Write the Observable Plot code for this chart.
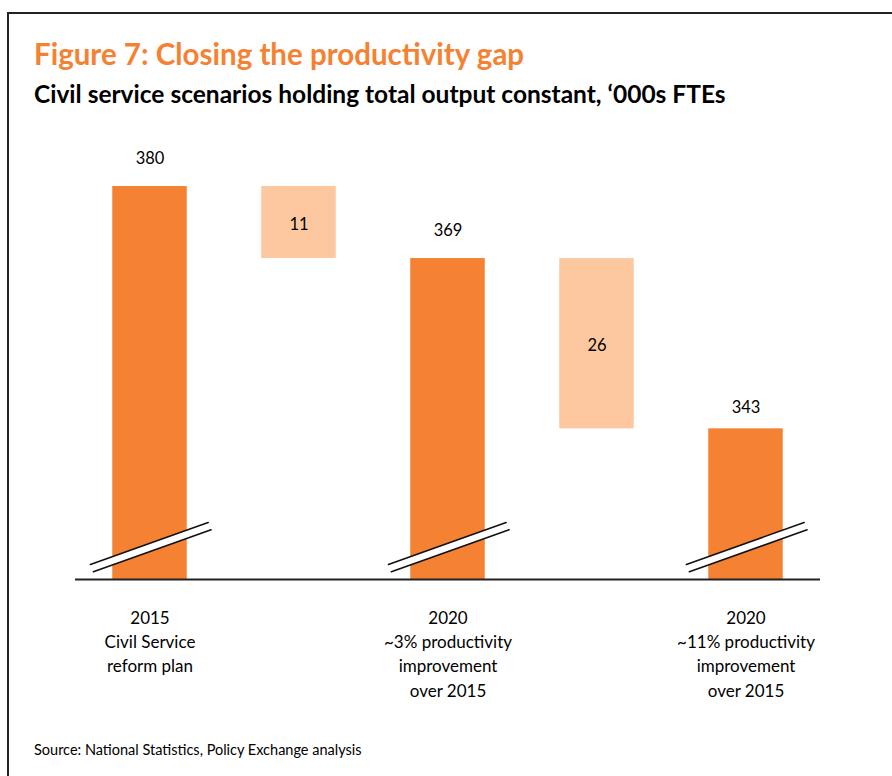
<!DOCTYPE html>
<html><head><meta charset="utf-8">
<script src="https://cdn.jsdelivr.net/npm/d3@7"></script>
<script src="https://cdn.jsdelivr.net/npm/@observablehq/plot@0.6"></script>
<style>
body{margin:0;background:#fff;font-family:Lato,"Open Sans",sans-serif;}
#wrap{position:relative;width:892px;height:776px;overflow:hidden;background:#fff;}
#frame{position:absolute;left:7px;top:12px;width:900px;height:800px;border-top:2px solid #222;border-left:2px solid #222;box-sizing:border-box;}
#title{position:absolute;left:34px;top:39px;font-size:29.5px;line-height:1;font-weight:bold;color:#F58232;white-space:nowrap;}
#subtitle{position:absolute;left:34px;top:82px;font-size:24.5px;line-height:1;font-weight:bold;color:#000;white-space:nowrap;}
#chart{position:absolute;left:0;top:130px;}
#source{position:absolute;left:34px;top:743px;font-size:14.5px;line-height:1;color:#000;white-space:nowrap;}
</style>
</head><body>
<div id="wrap">
  <div id="frame"></div>
  <div id="title">Figure 7: Closing the productivity gap</div>
  <div id="subtitle">Civil service scenarios holding total output constant, ‘000s FTEs</div>
  <div id="chart"></div>
  <div id="source">Source: National Statistics, Policy Exchange analysis</div>
</div>
<script>
// ---- data ----
const categories = [
  "2015\nCivil Service\nreform plan",
  "",
  "2020\n~3% productivity\nimprovement\nover 2015",
  "",
  "2020\n~11% productivity\nimprovement\nover 2015"
];
const totals = [380, null, 369, null, 343];
const changes = [null, 11, null, 26, null];
const axisFloor = 320;   // broken-axis floor
const axisTop = 380;

// ---- derived ----
const dark = "#F58232", light = "#FDC8A0";
const totalRows = [];
const changeRows = [];
let running = null;
categories.forEach((c, i) => {
  if (totals[i] != null) {
    totalRows.push({i, label: c, value: totals[i]});
    running = totals[i];
  } else if (changes[i] != null) {
    changeRows.push({i, from: running, to: running - changes[i], change: changes[i]});
    running = running - changes[i];
  }
});
const half = 0.25;
// break marks (two parallel slanted strokes with white gap) on each total bar
const brk = [];
const gap = [];
totalRows.forEach(r => {
  const a = {x: r.i - 0.40, y: axisFloor + 2.3}, b = {x: r.i + 0.39, y: axisFloor + 8.7};
  const c = {x: r.i + 0.41, y: axisFloor + 7.6}, d = {x: r.i - 0.38, y: axisFloor + 1.2};
  brk.push({k: r.i + "a", ...a}, {k: r.i + "a", ...b});
  brk.push({k: r.i + "b", ...d}, {k: r.i + "b", ...c});
  gap.push({k: r.i, ...a}, {k: r.i, ...b}, {k: r.i, ...c}, {k: r.i, ...d}, {k: r.i, ...a});
});

const plot = Plot.plot({
  width: 892,
  height: 600,
  marginLeft: 75,
  marginRight: 72,
  marginTop: 56,
  marginBottom: 151,
  style: {fontFamily: "Lato, 'Open Sans', sans-serif", fontSize: "16px", color: "#000", background: "transparent"},
  x: {domain: [-0.5, categories.length - 0.5], axis: null},
  y: {domain: [axisFloor, axisTop], axis: null, clamp: false},
  marks: [
    Plot.rectY(totalRows, {x1: d => d.i - half, x2: d => d.i + half, y1: axisFloor, y2: "value", fill: dark}),
    Plot.rectY(changeRows, {x1: d => d.i - half, x2: d => d.i + half, y1: "to", y2: "from", fill: light}),
    Plot.line(gap, {x: "x", y: "y", z: "k", fill: "white", stroke: "none", curve: "linear"}),
    Plot.line(brk, {x: "x", y: "y", z: "k", stroke: "#111", strokeWidth: 1.6}),
    Plot.ruleY([axisFloor], {stroke: "#222", strokeWidth: 2}),
    Plot.text(totalRows.filter(d => d.value >= 360), {x: "i", y: "value", text: d => String(d.value), dy: -28, fill: "#000", fontSize: 16.5}),
    Plot.text(totalRows.filter(d => d.value < 360), {x: "i", y: "value", text: d => String(d.value), dy: -21, fill: "#000", fontSize: 16.5}),
    Plot.text(changeRows, {x: "i", y: d => (d.from + d.to) / 2, text: d => String(d.change), dy: 2, fill: "#000", fontSize: 16.5}),
    Plot.text(totalRows, {x: "i", y: axisFloor, text: "label", lineAnchor: "top", dy: 27, lineHeight: 1.43, fill: "#000", fontSize: 17})
  ]
});
document.getElementById("chart").appendChild(plot);
</script>
</body></html>
